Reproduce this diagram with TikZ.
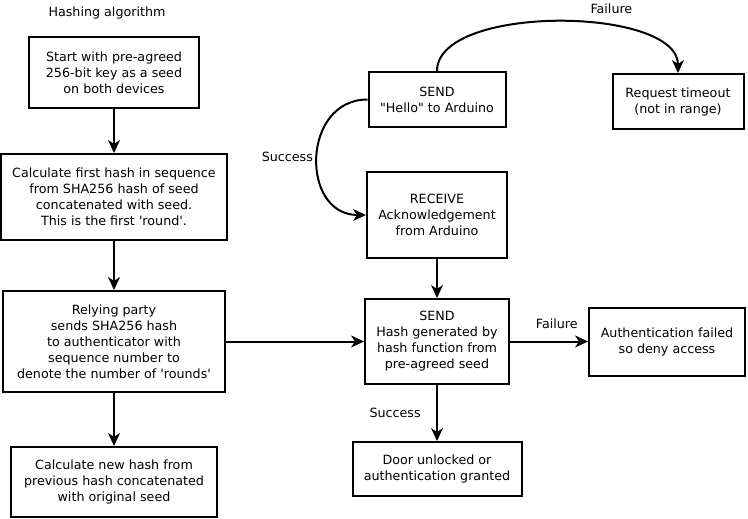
\documentclass[tikz,border=0pt]{standalone}
\usepackage{fontspec}
\setmainfont{DejaVu Sans}
\usetikzlibrary{arrows.meta,positioning}

\begin{document}
\begin{tikzpicture}[x=1pt,y=-1pt,on grid,auto,line width=2pt,
        every node/.style={font=\fontsize{12.7}{16}\selectfont},
        box/.style={draw,rectangle,align=center,inner sep=0pt},
        >={Stealth[length=13pt,width=12pt,inset=4pt]}]
        \useasboundingbox (0,0) rectangle (748,519);
        % hashing algorithm column
        \node (title) at (107,13) {Hashing algorithm};
        \node[box,minimum width=170pt,minimum height=71pt] (seed) at (114,72.5) {Start with pre-agreed\\256-bit key as a seed\\on both devices};
        \node[box,minimum width=226pt,minimum height=86pt] (firsthash) [below=124.5pt of seed] {Calculate first hash in sequence\\from SHA256 hash of seed\\concatenated with seed.\\This is the first \textquotesingle round\textquotesingle.};
        \node[box,minimum width=222pt,minimum height=101pt] (relying) [below=144.5pt of firsthash] {Relying party\\sends SHA256 hash\\to authenticator with\\sequence number to\\denote the number of \textquotesingle rounds\textquotesingle};
        \node[box,minimum width=206pt,minimum height=70pt] (newhash) [below=140.5pt of relying] {Calculate new hash from\\previous hash concatenated\\with original seed};
        % arduino column
        \node[box,minimum width=137pt,minimum height=55pt] (hello) at (437,99.5) {SEND\\\textquotedbl Hello\textquotedbl{} to Arduino};
        \node[box,minimum width=131pt,minimum height=55pt] (timeout) [right=241pt of hello,yshift=-2pt] {Request timeout\\(not in range)};
        \node[box,minimum width=140pt,minimum height=86pt] (receive) [below=115.5pt of hello] {RECEIVE\\Acknowledgement\\from Arduino};
        \node[box,minimum width=144pt,minimum height=85pt] (sendhash) [below=126.5pt of receive] {SEND\\Hash generated by\\hash function from\\pre-agreed seed};
        \node[box,minimum width=156pt,minimum height=68pt] (denied) [right=230pt of sendhash] {Authentication failed\\so deny access};
        \node[box,minimum width=169pt,minimum height=54pt] (granted) [below=127.5pt of sendhash] {Door unlocked or\\authentication granted};
        \path[->]
        (seed)      edge (firsthash)
        (firsthash) edge (relying)
        (relying)   edge (newhash)
                    edge (sendhash)
        (hello)     edge [out=90,in=90,looseness=0.71] node [pos=0.58,yshift=5pt] {Failure} (timeout)
                    edge [out=180,in=180,looseness=1.46] node [swap] {Success} (receive)
        (receive)   edge (sendhash)
        (sendhash)  edge node [pos=0.6,yshift=8pt] {Failure} (denied)
                    edge node [swap,xshift=-12pt] {Success} (granted);
\end{tikzpicture}
\end{document}
